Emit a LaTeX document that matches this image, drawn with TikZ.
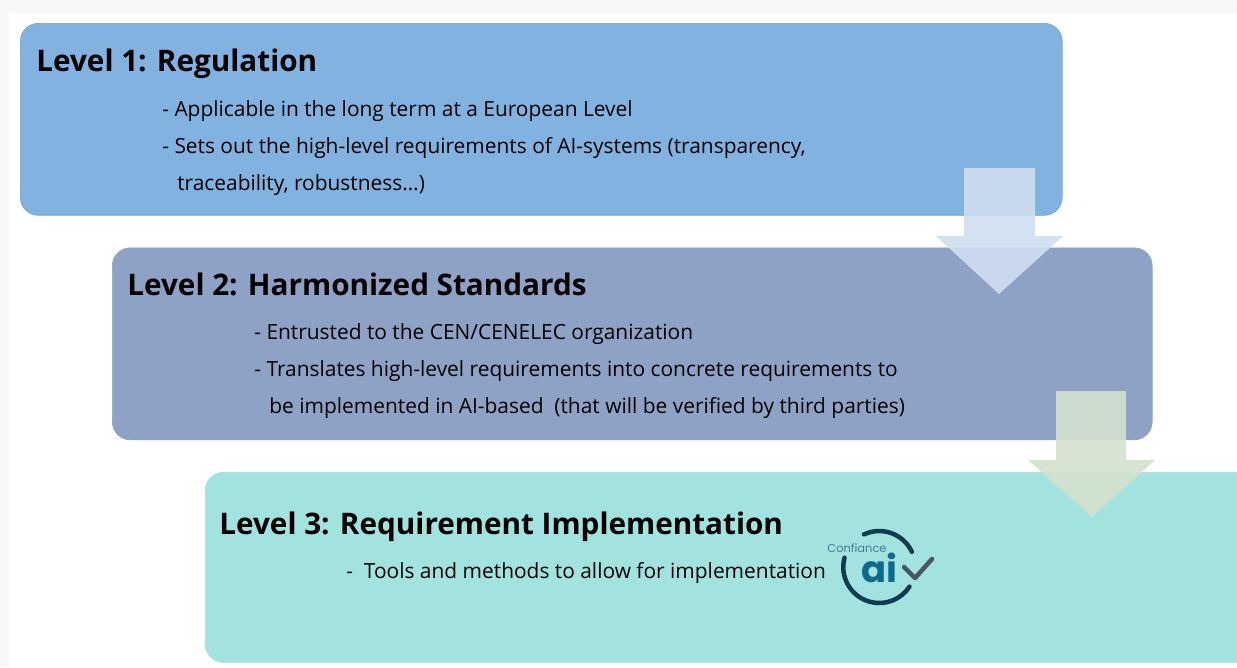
\documentclass[tikz,border=0pt]{standalone}
\usepackage{fontspec}
\setmainfont{Open Sans}
\newfontfamily\logofont{Poppins}
\usetikzlibrary{positioning}
\definecolor{regblue}{HTML}{82B2E0}
\definecolor{regline}{HTML}{6FA6DC}
\definecolor{stdblue}{HTML}{8EA2C6}
\definecolor{impteal}{HTML}{A2E3E0}
\definecolor{arrowblue}{HTML}{D0DEF0}
\definecolor{arrowgreen}{HTML}{D4E2CF}
\definecolor{logodark}{HTML}{0F3C50}
\definecolor{logoblue}{HTML}{0E6A8C}
\definecolor{logoname}{HTML}{3F7F95}
\definecolor{logogrey}{HTML}{4A5560}
\definecolor{pageback}{HTML}{F8F8F8}

\begin{document}
\begin{tikzpicture}[x=0.02cm,y=-0.02cm,
    levelbox/.style={rounded corners=0.36cm,minimum height=3.84cm,inner sep=0pt,anchor=north west},
    title/.style={anchor=base west,inner sep=0pt,font=\fontsize{16.9}{20}\selectfont\bfseries},
    body/.style={anchor=base west,inner sep=0pt,font=\fontsize{11.9}{14}\selectfont},
    stream/.style={fill opacity=0.9}]
    \useasboundingbox (0,0) rectangle (1237,667);
    %page
    \fill [pageback] (0,0) rectangle (1237,667);
    \fill [white] (9,13) rectangle (1237,667);
    %boxes
    \node [levelbox,minimum width=20.84cm,fill=regblue,draw=regline] (reg) at (20,23) {};
    \node [levelbox,minimum width=20.8cm,fill=stdblue,draw=stdblue] (std) at (112,247.5) {};
    \node [levelbox,minimum width=21cm,minimum height=3.8cm,fill=impteal,draw=impteal] (imp) at (205,472) {};
    %level 1
    \node [title] (regtitle) at (36,71) {Level 1: Regulation};
    \node [body] (rega) at (162,116) {- Applicable in the long term at a European Level};
    \node [body] (regb) at (162,153) {- Sets out the high-level requirements of AI-systems (transparency,};
    \node [body] (regc) at (177,190) {traceability, robustness…)};
    %level 2
    \node [title] (stdtitle) at (127,295) {Level 2: Harmonized Standards};
    \node [body] (stda) at (254,339) {- Entrusted to the CEN/CENELEC organization};
    \node [body] (stdb) at (254,376) {- Translates high-level requirements into concrete requirements to};
    \node [body] (stdc) at (269,413) {be implemented in AI-based\ \ (that will be verified by third parties)};
    %level 3
    \node [title] (imptitle) at (219,534) {Level 3: Requirement Implementation};
    \node [body] (impa) at (346,578) {-\ \ Tools and methods to allow for implementation};
    %arrows
    \fill [stream,arrowblue] (964,168) -- (1035,168) -- (1035,236) -- (1063,236) -- (999,294) -- (936,236) -- (964,236) -- cycle;
    \fill [stream,arrowgreen] (1056,391) -- (1126,391) -- (1126,460) -- (1155,460) -- (1092,517) -- (1028,460) -- (1056,460) -- cycle;
    %logo
    \draw [logodark,line width=0.09cm,line cap=round] (864,534.4) arc [start angle=-115,end angle=-25,radius=36];
    \draw [logodark,line width=0.09cm,line cap=round] (844.5,557.7) arc [start angle=195,end angle=33,radius=36];
    \draw [logogrey,line width=0.09cm,line cap=round,line join=round] (904,567) -- (915,578) -- (932,559);
    \node [anchor=base,inner sep=0pt,text=logoblue,font=\logofont\fontsize{21}{25}\selectfont\bfseries] (logoai) at (879,582) {ai};
    \node [anchor=base,inner sep=0pt,text=logoname,font=\logofont\fontsize{6.5}{7}\selectfont] (logotext) at (857,552) {Confiance};
\end{tikzpicture}
\end{document}
